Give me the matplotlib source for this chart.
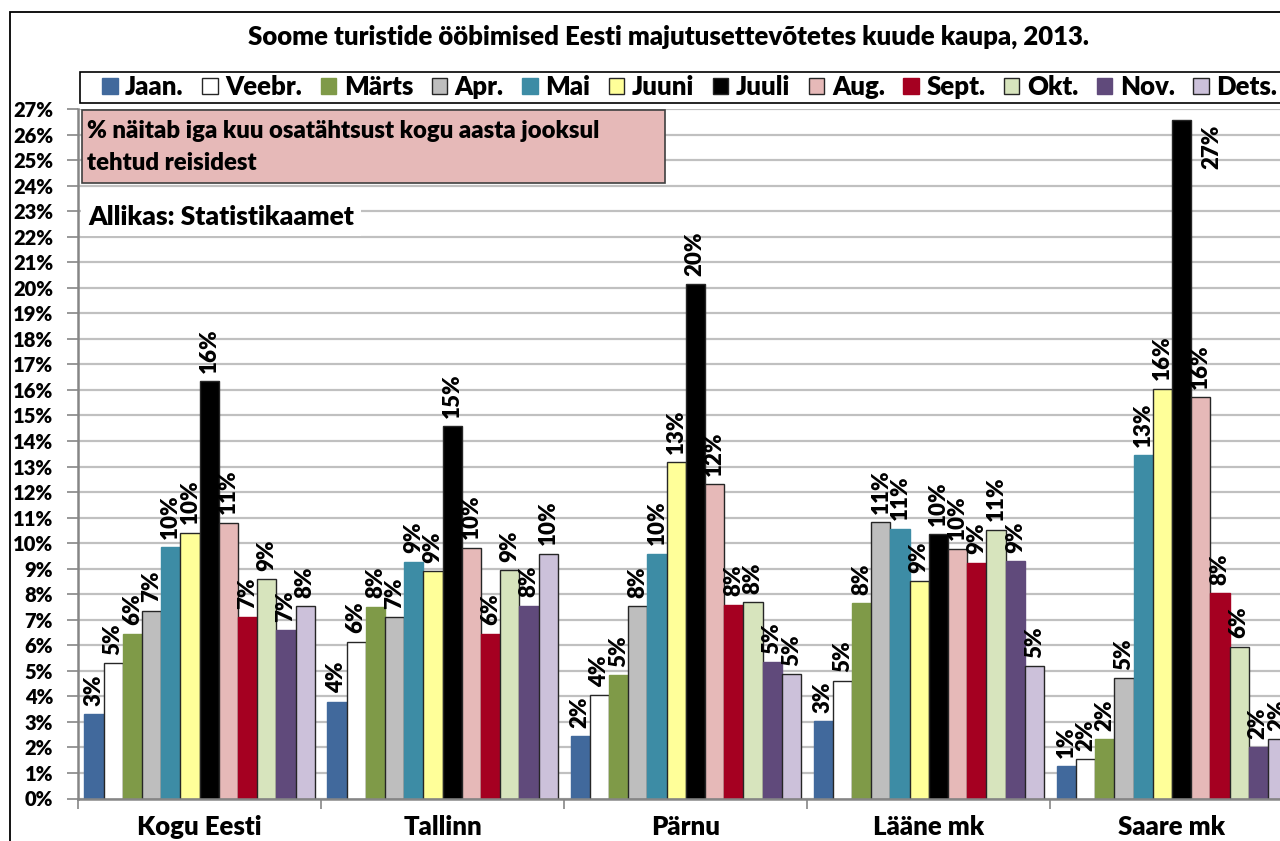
import matplotlib.pyplot as plt
import matplotlib.patches as mpatches
import numpy as np

plt.rcParams["font.family"] = ["Lato", "DejaVu Sans"]
WT = 800
plt.rcParams["font.weight"] = WT

regions = ["Kogu Eesti", "Tallinn", "Pärnu", "Lääne mk", "Saare mk"]
months = ["Jaan.", "Veebr.", "Märts", "Apr.", "Mai", "Juuni",
          "Juuli", "Aug.", "Sept.", "Okt.", "Nov.", "Dets."]

# share of each month in the year's trips, %
kogu_eesti = [3.29, 5.30, 6.45, 7.36, 9.85, 10.41, 16.34, 10.80, 7.10, 8.59, 6.58, 7.54]
tallinn = [3.79, 6.14, 7.51, 7.10, 9.28, 8.90, 14.57, 9.82, 6.46, 8.93, 7.55, 9.59]
parnu = [2.44, 4.05, 4.83, 7.53, 9.59, 13.16, 20.15, 12.30, 7.59, 7.70, 5.35, 4.86]
laane = [3.02, 4.62, 7.64, 10.82, 10.56, 8.52, 10.35, 9.78, 9.23, 10.53, 9.30, 5.19]
saare = [1.26, 1.54, 2.32, 4.72, 13.44, 16.05, 26.58, 15.71, 8.03, 5.94, 2.00, 2.32]

colors = ["#41699C", "#FFFFFF", "#7F9A48", "#BEBEBE", "#3D8CA5", "#FFFF99",
          "#000000", "#E6B9B8", "#A50021", "#D7E4BD", "#604A7B", "#CCC1DA"]
outlined = [False, True, False, True, False, True, True, True, False, True, False, True]

values = np.array([kogu_eesti, tallinn, parnu, laane, saare])

W, H = 1280, 841
fig = plt.figure(figsize=(W / 100, H / 100), dpi=100)
ax = fig.add_axes([78 / W, 1 - 798.5 / H, 1215.5 / W, 689.5 / H])

FS = 14.5
LFS = 16
x = np.arange(len(regions))
w = 0.079
ymax = 27
handles = []
for j, m in enumerate(months):
    ec = "#262626" if outlined[j] else colors[j]
    pos = x + (j - 5.5) * w
    bars = ax.bar(pos, values[:, j], w, color=colors[j], edgecolor=ec,
                  linewidth=1.0, label=m, zorder=2)
    handles.append(bars)
    for xi, v in zip(pos, values[:, j]):
        lab = f"{v:.0f}%"
        if v > ymax - 2.5:
            # no room above the bar: put the label beside it
            ax.text(xi + 1.6 * w, ymax - 0.6, lab, rotation=90, ha="center",
                    va="top", fontsize=LFS, fontweight=WT)
        else:
            ax.annotate(lab, (xi, v), xytext=(0, 6), textcoords="offset points",
                        rotation=90, ha="center", va="bottom",
                        fontsize=LFS, fontweight=WT)

ax.set_xlim(-0.5, len(regions) - 0.5)
ax.set_ylim(0, ymax)
ax.set_yticks(np.arange(0, ymax + 1, 1))
ax.set_yticklabels([f"{t}%" for t in range(0, ymax + 1)], fontsize=FS,
                   fontweight=WT)
ax.set_xticks(np.arange(-0.5, len(regions), 1))
ax.set_xticklabels([])
ax.set_xticks(x, minor=True)
ax.set_xticklabels(regions, minor=True, fontsize=18.5, fontweight=WT)
ax.tick_params(axis="x", which="minor", length=0, pad=12)
ax.tick_params(axis="x", which="major", length=7, width=1.2, color="#868686")
ax.tick_params(axis="y", length=8, width=1.2, color="#868686", pad=10)

ax.yaxis.grid(True, color="#C0C0C0", linewidth=1.6)
ax.set_axisbelow(True)
for s in ["top", "right"]:
    ax.spines[s].set_visible(False)
for s in ["left", "bottom"]:
    ax.spines[s].set_color("#868686")
    ax.spines[s].set_linewidth(1.8)

# outer chart frame
fig.patches.append(mpatches.Rectangle((9.5 / W, -0.1), 2, 1 - 12 / H + 0.1,
                                      transform=fig.transFigure, fill=False,
                                      edgecolor="black", linewidth=1.3))

fig.text(668 / W, 1 - 37 / H,
         "Soome turistide ööbimised Eesti majutusettevõtetes kuude kaupa, 2013.",
         ha="center", va="center", fontsize=18.5, fontweight=WT)

# legend frame runs past the right edge, as in the original
fig.patches.append(mpatches.Rectangle((80 / W, 1 - 103 / H), 1.0, 31 / H,
                                      transform=fig.transFigure,
                                      facecolor="white", edgecolor="black",
                                      linewidth=1.2))
leg = fig.legend(handles=handles, loc="upper left", ncol=12,
                 bbox_to_anchor=(99 / W, 1 - 72 / H), fontsize=18.5,
                 frameon=False, handlelength=0.6, handleheight=0.6,
                 handletextpad=0.3, columnspacing=0.72, borderpad=0.12,
                 borderaxespad=0)
leg.set_zorder(5)

# note box
fig.patches.append(mpatches.Rectangle((82 / W, 1 - 183 / H), 583 / W, 73 / H,
                                      transform=fig.transFigure,
                                      facecolor="#E6B9B8", edgecolor="#404040",
                                      linewidth=1.2))
fig.text(87 / W, 1 - 131 / H, "% näitab iga kuu osatähtsust kogu aasta jooksul",
         ha="left", va="center", fontsize=17.2, fontweight=WT)
fig.text(87 / W, 1 - 163 / H, "tehtud reisidest",
         ha="left", va="center", fontsize=17.2, fontweight=WT)
fig.text(88 / W, 1 - 217 / H, "Allikas: Statistikaamet", ha="left",
         va="center", fontsize=19, fontweight=WT,
         bbox=dict(facecolor="white", edgecolor="none", pad=5))

fig.savefig("out.png", dpi=100)
